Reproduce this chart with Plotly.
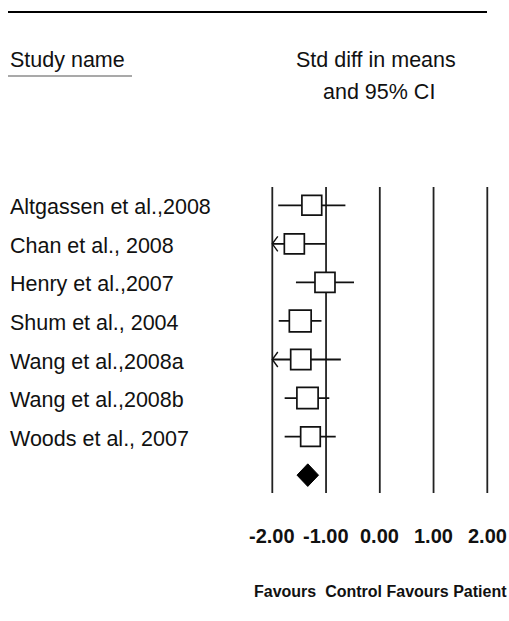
import plotly.graph_objects as go

# ---------------- data ----------------
studies = ["Altgassen et al.,2008", "Chan et al., 2008", "Henry et al.,2007",
           "Shum et al., 2004", "Wang et al.,2008a", "Wang et al.,2008b",
           "Woods et al., 2007"]
std_diff = [-1.265, -1.59, -1.02, -1.48, -1.47, -1.345, -1.29]
lower = [-1.89, -2.17, -1.56, -1.88, -2.22, -1.77, -1.77]
upper = [-0.64, -1.01, -0.48, -1.085, -0.725, -0.94, -0.82]
rel_weight = [0.98, 0.99, 0.99, 1.08, 1.00, 1.05, 0.97]
summary_est = -1.34
summary_lower = -1.54
summary_upper = -1.14
tick_vals = [-2, -1, 0, 1, 2]
tick_labels = ["-2.00", "-1.00", "0.00", "1.00", "2.00"]
favours_text = "Favours\u00a0\u00a0Control Favours Patient"

# ---------------- layout geometry ----------------
W, H = 509, 621
PX_PER_X = 53.75          # pixels per unit on the effect axis
X_ZERO_PX = 379.8         # pixel of 0.00
ROW0_PX = 205.3           # pixel of first row
ROW_PX = 38.55            # pixels per row
x_range = [-X_ZERO_PX / PX_PER_X, (W - X_ZERO_PX) / PX_PER_X]
y_range = [(H - ROW0_PX) / ROW_PX, -ROW0_PX / ROW_PX]
XMIN = -2.0
BOX_BASE = 20.2

def px_x(p):
    return p / W

def px_y(p):
    return 1 - p / H

def row_of(p):
    return (p - ROW0_PX) / ROW_PX

FONT = "Liberation Sans, Arial, Helvetica, sans-serif"
INK = "#111111"

fig = go.Figure()

n = len(studies)
rows = list(range(n))
summary_row = n

# CI lines (clipped at the axis minimum) and arrow heads
lx, ly = [], []
ax, ay = [], []
adx = 5.5 / PX_PER_X
ady = 7.5 / ROW_PX
for i in rows:
    lo = max(lower[i], XMIN)
    lx += [lo, upper[i], None]
    ly += [i, i, None]
    if lower[i] < XMIN:
        ax += [XMIN + adx, XMIN, XMIN + adx, None]
        ay += [i - ady, i, i + ady, None]

fig.add_trace(go.Scatter(x=lx, y=ly, mode="lines",
                         line=dict(color=INK, width=1.8),
                         hoverinfo="skip", showlegend=False))
fig.add_trace(go.Scatter(x=ax, y=ay, mode="lines",
                         line=dict(color=INK, width=1.4),
                         hoverinfo="skip", showlegend=False))

# boxes
fig.add_trace(go.Scatter(
    x=std_diff, y=rows, mode="markers",
    marker=dict(symbol="square", color="#ffffff", opacity=1,
                size=[BOX_BASE * w for w in rel_weight],
                line=dict(color=INK, width=1.7)),
    showlegend=False))

# summary diamond
dh = 11.3 / ROW_PX
fig.add_trace(go.Scatter(
    x=[summary_lower, summary_est, summary_upper, summary_est, summary_lower],
    y=[summary_row, summary_row - dh, summary_row, summary_row + dh, summary_row],
    mode="lines", fill="toself", fillcolor="black",
    line=dict(color="black", width=1), showlegend=False))

# vertical reference lines
shapes = []
for v in tick_vals:
    shapes.append(dict(type="line", xref="x", yref="y", x0=v, x1=v,
                       y0=row_of(187), y1=row_of(493),
                       line=dict(color="#222222", width=1.8), layer="below"))
# top rule
shapes.append(dict(type="line", xref="paper", yref="paper",
                   x0=px_x(8), x1=px_x(487), y0=px_y(12), y1=px_y(12),
                   line=dict(color="black", width=2.2)))
# underline for "Study name"
shapes.append(dict(type="line", xref="paper", yref="paper",
                   x0=px_x(8), x1=px_x(132), y0=px_y(76), y1=px_y(76),
                   line=dict(color="#555555", width=1.2)))

annotations = []
for i, s in zip(rows, studies):
    annotations.append(dict(text=s, xref="paper", yref="y", x=px_x(8), y=i,
                            xanchor="left", yanchor="middle", showarrow=False,
                            yshift=-2, font=dict(family=FONT, size=21.5, color=INK)))
annotations.append(dict(text="Study name", xref="paper", yref="paper",
                        x=px_x(8), y=px_y(60), xanchor="left", yanchor="middle",
                        showarrow=False, font=dict(family=FONT, size=21.5, color=INK)))
annotations.append(dict(text="Std diff in means", xref="paper", yref="paper",
                        x=px_x(376), y=px_y(60), xanchor="center", yanchor="middle",
                        showarrow=False, font=dict(family=FONT, size=21.5, color=INK)))
annotations.append(dict(text="and 95% CI", xref="paper", yref="paper",
                        x=px_x(378.5), y=px_y(92), xanchor="center", yanchor="middle",
                        showarrow=False, font=dict(family=FONT, size=21.5, color=INK)))
for v, t in zip(tick_vals, tick_labels):
    annotations.append(dict(text="<b>" + t + "</b>", xref="x", yref="paper",
                            x=v, y=px_y(536), xanchor="center", yanchor="middle",
                            showarrow=False, font=dict(family=FONT, size=20, color=INK)))
annotations.append(dict(text="<b>" + favours_text + "</b>", xref="paper", yref="paper",
                        x=px_x(380.4), y=px_y(591), xanchor="center", yanchor="middle",
                        showarrow=False, font=dict(family=FONT, size=16, color=INK)))

fig.update_layout(
    width=W, height=H, autosize=False,
    margin=dict(l=0, r=0, t=0, b=0, pad=0),
    paper_bgcolor="white", plot_bgcolor="white",
    xaxis=dict(range=x_range, visible=False, fixedrange=True),
    yaxis=dict(range=y_range, visible=False, fixedrange=True),
    shapes=shapes, annotations=annotations,
    showlegend=False,
)

fig.write_html(
    "out.html",
    config={"displayModeBar": False},
    post_script="document.body.style.margin='0';document.body.style.overflow='hidden';",
)
